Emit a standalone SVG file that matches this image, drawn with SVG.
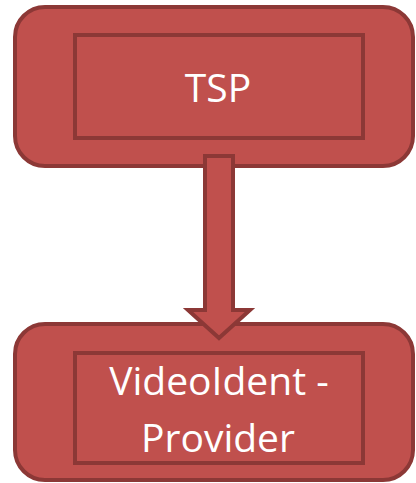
<svg xmlns="http://www.w3.org/2000/svg" width="416" height="483" viewBox="0 0 416 483">
  <style>
    .outer { fill: #C0504D; stroke: #8C3836; stroke-width: 4; }
    .inner { fill: #C0504D; stroke: #8C3836; stroke-width: 4; }
    .label { font-family: "Open Sans", "Noto Sans", sans-serif; font-size: 39px; fill: #FFFFFF; text-anchor: middle; }
  </style>
  <rect width="416" height="483" fill="#FFFFFF"/>
  <g id="tsp">
    <rect class="outer" x="15" y="7" width="398" height="159" rx="30" ry="30"/>
    <rect class="inner" x="75" y="35" width="288" height="103"/>
    <text class="label" x="218" y="102">TSP</text>
  </g>
  <g id="videoident-provider">
    <rect class="outer" x="15" y="324" width="398" height="156" rx="30" ry="30"/>
    <rect class="inner" x="75" y="353" width="288" height="110"/>
    <text class="label" x="219" y="395">VideoIdent -</text>
    <text class="label" x="218" y="452">Provider</text>
  </g>
  <g id="connectors">
    <polygon class="outer" points="205,156 233,156 233,310 250,310 219,338 188,310 205,310"/>
  </g>
</svg>
